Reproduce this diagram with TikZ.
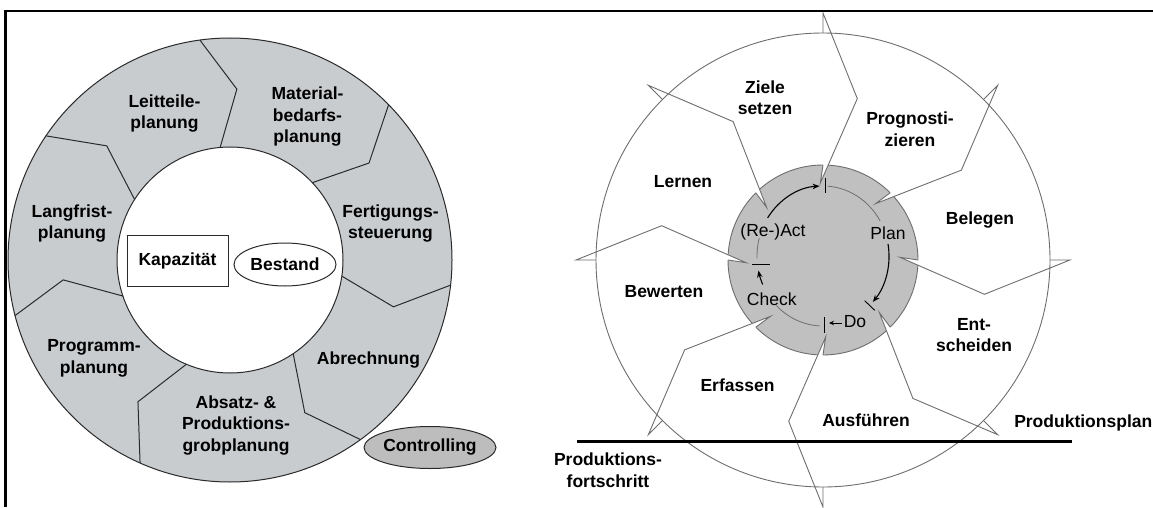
\documentclass[tikz,border=0pt]{standalone}
\usepackage{fontspec}
\setmainfont{Liberation Sans}
\usetikzlibrary{calc,shapes.geometric,arrows.meta}
\definecolor{ringgrey}{HTML}{C9CCCF}
\definecolor{ctrlgrey}{HTML}{BDBDBD}
\definecolor{discgrey}{HTML}{C0C0C0}
\definecolor{linegrey}{HTML}{6E6E6E}
\definecolor{darkline}{HTML}{2A2A2A}
\tikzset{
  lbl/.style={font=\bfseries\fontsize{17.5}{21.5}\selectfont, align=center, inner sep=0pt},
  lblr/.style={font=\fontsize{17.5}{21.5}\selectfont, align=center, inner sep=0pt},
  segline/.style={draw=darkline, line width=1pt, line join=round},
  wing/.style={draw=linegrey, line width=0.9pt, fill=white, line join=miter},
  pdcaarrow/.style={draw=black, line width=1.1pt, -{Stealth[length=7pt,width=5.5pt]}},
  pdcathin/.style={draw=linegrey, line width=0.8pt},
  pdcatick/.style={draw=black, line width=0.9pt},
}
\begin{document}
\begin{tikzpicture}[x=1pt,y=1pt]
\useasboundingbox (0,0) rectangle (1153,507);
\fill[white] (0,0) rectangle (1153,507);

% ---------------- left diagram ----------------
\coordinate (cL) at (230,247);
\fill[ringgrey, even odd rule] (cL) circle (222) (cL) circle (113);
\draw[segline] (cL) circle (222);
\draw[segline] (cL) circle (113);
\foreach \a/\k/\kr/\b in {97.8/87.7/171/95, 44.4/34.9/169.5/43.2, -6.5/-16/170/-8.2,
    -54/-63.9/170/-56, -113.9/-123/169/-112.7, -165.5/-173.2/168/-161.4, 146/137.2/168/147.6}{
  \draw[segline] ($(cL)+(\a:222)$) -- ($(cL)+(\k:\kr)$) -- ($(cL)+(\b:113)$);
}
\node[lbl] (leit) at (164.5,393.5) {Leitteile-\\planung};
\node[lbl] (mat) at (307.5,390) {Material-\\bedarfs-\\planung};
\node[lbl] (lang) at (72,283.5) {Langfrist-\\planung};
\node[lbl] (fert) at (390.5,283.5) {Fertigungs-\\steuerung};
\node[lbl, draw=darkline, line width=1pt, fill=white, minimum width=101pt, minimum height=51pt] (kap) at (177.5,246.5) {Kapazität};
\node[lbl, ellipse, draw=darkline, line width=1pt, fill=white, minimum width=102pt, minimum height=43pt] (best) at (285,242.5) {Bestand};
\node[lbl] (prog) at (94,148.5) {Programm-\\planung};
\node[lbl] (abr) at (368.5,147) {Abrechnung};
\node[lbl] (abs) at (236,81.5) {Absatz- \&\\Produktions-\\grobplanung};
\node[lbl, ellipse, draw=darkline, line width=1pt, fill=ctrlgrey, minimum width=112pt, minimum height=42pt] (ctrl) at (430,59.5) {Controlling};

% ---------------- right diagram ----------------
\coordinate (cR) at (823,247);
\coordinate (cP) at (823,251);
\filldraw[fill=discgrey, draw=linegrey, line width=0.9pt] (cR) circle (95);
\foreach \t in {90,45,0,-45,-90,-135,180,135}{
  \filldraw[wing] ($(cR)+(\t:227)$) -- ($(cR)+(\t:247)$) -- ($(cR)+({\t-12}:165)$)
     -- ($(cR)+({\t+2}:77)$) -- ($(cR)+(\t:95)$);
}
\draw[draw=linegrey, line width=0.9pt] (cR) circle (227);

% PDCA loop
\draw[pdcaarrow] ($(cP)+(147:66 and 70)$) arc[start angle=147, end angle=93, x radius=66, y radius=70];
\draw[pdcathin] ($(cP)+(86:66 and 70)$) arc[start angle=86, end angle=30, x radius=66, y radius=70];
\draw[pdcaarrow] ($(cP)+(10:66 and 70)$) arc[start angle=10, end angle=-41, x radius=66, y radius=70];
\draw[pdcathin] ($(cP)+(-93:66 and 70)$) arc[start angle=-93, end angle=-135, x radius=66, y radius=70];
\draw[pdcaarrow] ($(cP)+(204:66 and 70)$) arc[start angle=204, end angle=192, x radius=66, y radius=70];
\draw[pdcathin] ($(cP)+(182:66 and 70)$) arc[start angle=182, end angle=165, x radius=66, y radius=70];
% ticks
\coordinate (tkTop) at (825.7,321.5);
\coordinate (tkLeft) at (760.5,242.7);
\coordinate (tkDo) at (869.7,201.5);
\coordinate (tkBot) at (824.3,182.3);
\draw[pdcatick] ($(tkTop)+(0,-7.5)$) -- ($(tkTop)+(0,7.5)$);
\draw[pdcatick] ($(tkLeft)+(-9,0)$) -- ($(tkLeft)+(9,0)$);
\draw[pdcatick] ($(tkDo)+(-5,4.8)$) -- ($(tkDo)+(5,-4.8)$);
\draw[pdcatick] ($(tkBot)+(0,-8)$) -- ($(tkBot)+(0,8)$);

\node[lblr] (act) at (773,275) {(Re-)Act};
\node[lblr] (plan) at (888,274) {Plan};
\node[lblr] (check) at (771.7,207.7) {Check};
\node[lblr] (do) at (855,185) {Do};
\coordinate (doTip) at (829,184);
\draw[draw=black, line width=0.9pt, -{Stealth[length=5pt,width=4.5pt]}] ($(do.west)+(-1.5,-1)$) -- (doTip);

\node[lbl] (ziele) at (765,409.5) {Ziele\\setzen};
\node[lbl] (progn) at (910,378) {Prognosti-\\zieren};
\node[lbl] (lern) at (683,325) {Lernen};
\node[lbl] (beleg) at (980,287) {Belegen};
\node[lbl] (bew) at (664,215) {Bewerten};
\node[lbl] (ent) at (974,172) {Ent-\\scheiden};
\node[lbl] (erf) at (737.5,122) {Erfassen};
\node[lbl] (ausf) at (866,87) {Ausführen};
\node[lbl, anchor=east] (pplan) at (1152.5,84) {Produktionsplan};
\node[lbl] (pfort) at (608,37) {Produktions-\\fortschritt};

\coordinate (hlA) at (577,65.3);
\coordinate (hlB) at (1072,65.3);
\draw[line width=3pt] (hlA) -- (hlB);

% border
\coordinate (bA) at (5.5,0);
\coordinate (bB) at (5.5,496);
\coordinate (bC) at (1153,496);
\draw[line width=2.5pt] (bA) -- (bB) -- (bC);
\end{tikzpicture}
\end{document}
